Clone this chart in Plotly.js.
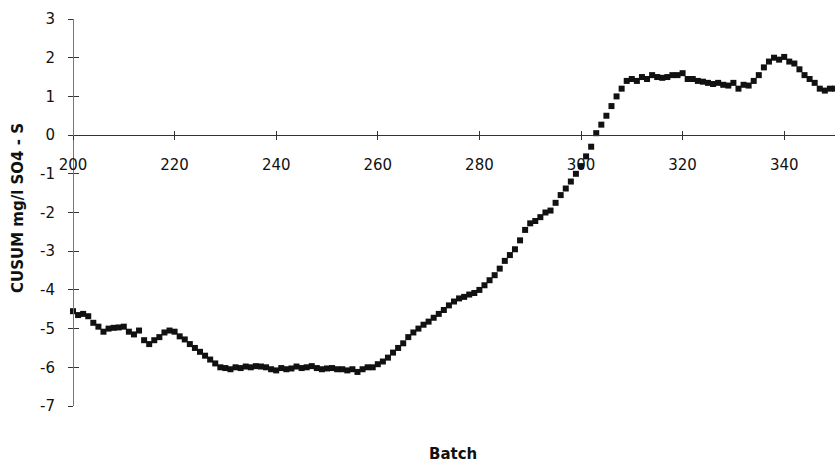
<!DOCTYPE html>
<html>
<head>
<meta charset="utf-8">
<script src="https://cdn.plot.ly/plotly-3.0.1.min.js"></script>
<style>html,body{margin:0;padding:0;background:#fff;}#chart{width:835px;height:462px;}</style>
</head>
<body>
<div id="chart"></div>
<script>
// Batch numbers 200..350
const batchStart = 200;
const cusum = [
  -4.55, -4.65, -4.62, -4.68, -4.85, -4.95, -5.08, -5.00, -4.98, -4.97,   // 200-209
  -4.95, -5.08, -5.15, -5.05, -5.30, -5.40, -5.30, -5.22, -5.10, -5.05,   // 210-219
  -5.08, -5.20, -5.28, -5.40, -5.50, -5.60, -5.70, -5.80, -5.90, -6.00,   // 220-229
  -6.02, -6.05, -6.00, -6.02, -5.98, -6.00, -5.97, -5.98, -6.00, -6.05,   // 230-239
  -6.08, -6.02, -6.05, -6.03, -5.98, -6.02, -6.00, -5.97, -6.02, -6.05,   // 240-249
  -6.03, -6.02, -6.05, -6.05, -6.08, -6.05, -6.12, -6.05, -6.00, -6.00,   // 250-259
  -5.92, -5.85, -5.75, -5.62, -5.50, -5.38, -5.22, -5.10, -5.00, -4.90,   // 260-269
  -4.82, -4.72, -4.62, -4.52, -4.40, -4.30, -4.22, -4.18, -4.12, -4.08,   // 270-279
  -4.00, -3.88, -3.75, -3.62, -3.45, -3.25, -3.10, -2.95, -2.72, -2.45,   // 280-289
  -2.28, -2.22, -2.12, -2.00, -1.95, -1.75, -1.55, -1.38, -1.20, -1.00,   // 290-299
  -0.80, -0.55, -0.30, 0.05, 0.27, 0.50, 0.75, 1.00, 1.20, 1.40,          // 300-309
  1.45, 1.40, 1.50, 1.45, 1.55, 1.50, 1.48, 1.50, 1.55, 1.55,             // 310-319
  1.60, 1.45, 1.45, 1.40, 1.38, 1.35, 1.32, 1.35, 1.30, 1.28,             // 320-329
  1.35, 1.20, 1.30, 1.28, 1.40, 1.55, 1.75, 1.90, 2.00, 1.95,             // 330-339
  2.02, 1.90, 1.85, 1.70, 1.55, 1.45, 1.35, 1.20, 1.15, 1.20,             // 340-349
  1.20                                                                    // 350
];
const batches = cusum.map((_, i) => batchStart + i);
const xTicks = [200, 220, 240, 260, 280, 300, 320, 340];
const yTicks = [-7, -6, -5, -4, -3, -2, -1, 0, 1, 2, 3];
const yTickText = ['-7', '-6', '-5', '-4', '-3', '-2', '-1', '0', '1', '2', '3'];
const xTitle = 'Batch';
const yTitle = 'CUSUM mg/l SO4 - S';

const font = 'DejaVu Sans, Verdana, sans-serif';

const traces = [
  {
    x: batches, y: cusum, type: 'scatter', mode: 'markers',
    marker: {symbol: 'square', size: 6, color: '#111'},
    cliponaxis: false, showlegend: false, hoverinfo: 'x+y'
  },
  {x: [200], y: [-8], xaxis: 'x2', yaxis: 'y2', type: 'scatter', mode: 'markers',
   marker: {opacity: 0}, showlegend: false, hoverinfo: 'skip'}
];

const layout = {
  width: 835, height: 462,
  margin: {l: 73, r: 0, t: 19, b: 56},
  paper_bgcolor: '#fff', plot_bgcolor: '#fff',
  font: {family: font, size: 15, color: '#111'},
  xaxis: {
    range: [200, 350], anchor: 'free', position: 0.7,
    showgrid: false, zeroline: false, showline: true, linecolor: '#333', linewidth: 1,
    ticks: 'outside', ticklen: 4, tickcolor: '#333', tickvals: xTicks,
    ticklabelstandoff: 12, tickfont: {family: font, size: 15, color: '#111'}
  },
  yaxis: {
    range: [-7, 3], anchor: 'free', position: 0,
    showgrid: false, zeroline: false, showline: true, linecolor: '#777', linewidth: 1,
    ticks: 'outside', ticklen: 5, tickcolor: '#333', tickvals: yTicks, ticktext: yTickText,
    ticklabelstandoff: 10, tickfont: {family: font, size: 15, color: '#111'}
  },
  xaxis2: {
    range: [200, 350], overlaying: 'x', anchor: 'free', position: 0.7,
    showgrid: false, zeroline: false, showline: false, showticklabels: false,
    ticks: 'inside', ticklen: 4, tickcolor: '#333', tickvals: xTicks
  },
  yaxis2: {
    range: [-7, 3], overlaying: 'y', anchor: 'free', position: 0, side: 'left',
    showgrid: false, zeroline: false, showline: false, showticklabels: false,
    ticks: 'inside', ticklen: 5, tickcolor: '#333', tickvals: yTicks
  },
  annotations: [
    {text: '<b>' + xTitle + '</b>', xref: 'paper', yref: 'paper', x: 0.499, y: -0.124,
     xanchor: 'center', yanchor: 'middle', showarrow: false, font: {family: font, size: 15, color: '#111'}},
    {text: '<b>' + yTitle + '</b>', xref: 'paper', yref: 'paper', x: -0.072, y: 0.512,
     xanchor: 'center', yanchor: 'middle', textangle: -90, showarrow: false, font: {family: font, size: 15, color: '#111'}}
  ]
};

Plotly.newPlot('chart', traces, layout, {displayModeBar: false, staticPlot: true});
</script>
</body>
</html>
